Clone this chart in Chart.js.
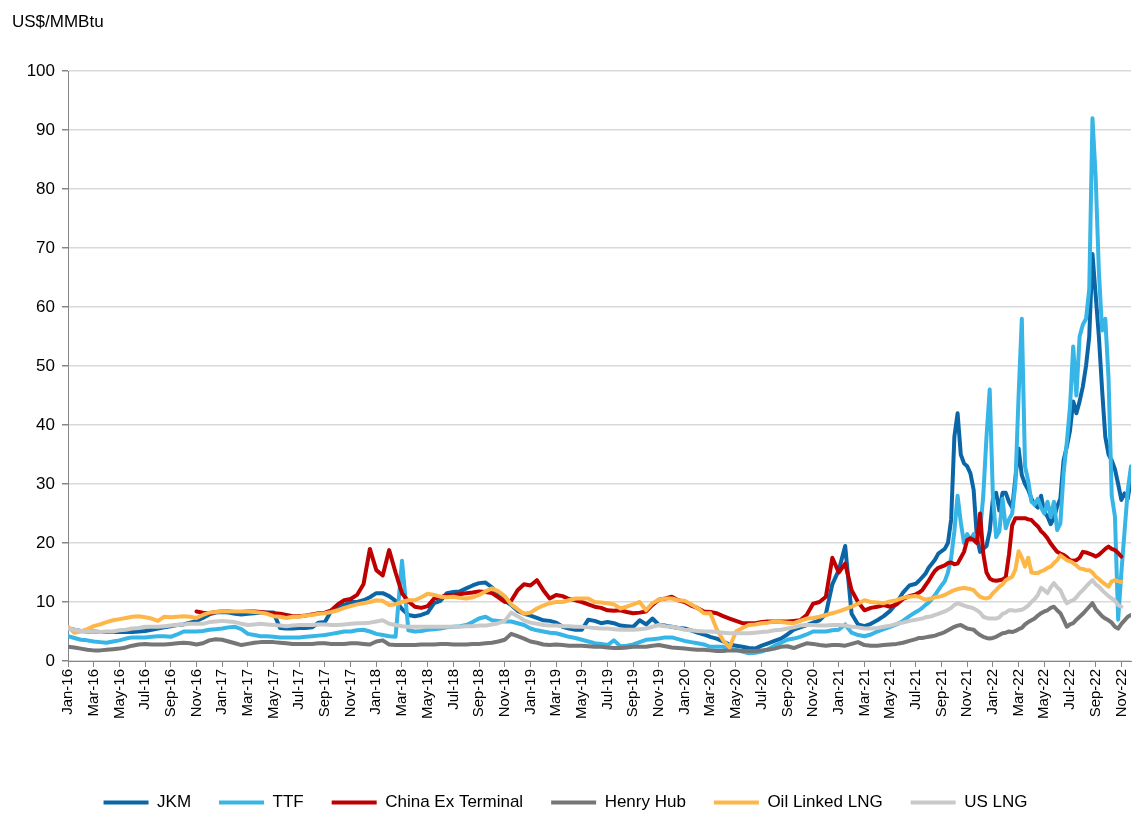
<!DOCTYPE html>
<html>
<head>
<meta charset="utf-8">
<script src="https://cdn.jsdelivr.net/npm/chart.js@4.4.1/dist/chart.umd.min.js"></script>
<style>
  html, body { margin: 0; padding: 0; background: #ffffff; }
  #wrap { width: 1144px; height: 827px; position: relative; }
</style>
</head>
<body>
<div id="wrap"><canvas id="c"></canvas></div>
<script>
// ---- Data (US$/MMBtu). Semi-monthly points Jan-16..Jul-21, weekly points Jul-21..Nov-22 ----
const unitLabel = 'US$/MMBtu';
const seriesNames = ['JKM', 'TTF', 'China Ex Terminal', 'Henry Hub', 'Oil Linked LNG', 'US LNG'];
const tickLabels = [
  'Jan-16','Mar-16','May-16','Jul-16','Sep-16','Nov-16',
  'Jan-17','Mar-17','May-17','Jul-17','Sep-17','Nov-17',
  'Jan-18','Mar-18','May-18','Jul-18','Sep-18','Nov-18',
  'Jan-19','Mar-19','May-19','Jul-19','Sep-19','Nov-19',
  'Jan-20','Mar-20','May-20','Jul-20','Sep-20','Nov-20',
  'Jan-21','Mar-21','May-21','Jul-21','Sep-21','Nov-21',
  'Jan-22','Mar-22','May-22','Jul-22','Sep-22','Nov-22'
];

// time positions in months since Jan-2016
const months = [];
for (let m = 0; m <= 66; m += 0.5) months.push(m);
for (let m = 66.25; m <= 82.75 + 1e-9; m += 0.25) months.push(m);

const jkm = [
  5.5,5.3,5.1,5.0,5.0,4.9,4.9,4.9,4.9,4.9,4.9,5.0,5.1,5.3,5.5,5.7,5.9,6.1,6.2,6.5,6.8,7.3,7.9,8.2,
  8.3,8.2,8.0,7.9,8.0,8.1,8.2,8.2,8.2,5.6,5.5,5.5,5.6,5.6,5.7,6.5,6.6,8.5,9.2,9.5,10.0,10.0,10.3,10.8,
  11.5,11.5,11.0,10.2,8.8,7.8,7.6,7.8,8.2,9.8,10.2,11.5,11.7,11.8,12.3,12.8,13.2,13.3,12.5,11.3,10.2,9.5,8.5,8.0,
  7.7,7.3,6.9,6.8,6.5,5.8,5.5,5.3,5.3,7.0,6.8,6.4,6.6,6.4,6.0,5.9,5.8,6.9,6.2,7.2,6.1,6.0,5.8,5.6,
  5.5,5.2,4.8,4.5,4.1,3.8,3.3,2.8,2.6,2.4,2.2,2.1,2.6,3.0,3.4,3.8,4.5,5.3,5.7,6.1,6.5,6.9,8.0,13.0,
  15.4,19.5,8.0,6.2,5.9,6.3,6.9,7.6,8.5,9.8,11.6,12.8,13.1,
  13.6,14.2,14.8,15.8, 16.5,17.2,18.2,18.6, 19.0,20.0,24.0,38.0, 42.0,35.0,33.5,33.0,
  31.8,29.0,21.0,18.5, 19.0,19.5,22.0,27.5, 28.5,25.5,28.5,28.5, 27.0,26.0,31.0,36.0,
  31.5,30.0,29.0,27.5, 26.5,26.0,28.0,25.2, 24.5,23.2,24.2,26.2, 27.5,34.0,36.3,39.0,
  44.0,42.0,44.0,46.5, 50.0,55.0,69.0,62.0, 55.0,46.0,38.0,35.0, 34.0,32.5,30.0,27.3,
  28.4,27.5,31.0
];
const ttf = [
  4.2,3.9,3.6,3.5,3.3,3.2,3.1,3.3,3.5,3.8,4.0,4.0,4.0,4.1,4.2,4.2,4.1,4.5,5.0,5.0,5.0,5.1,5.3,5.4,
  5.5,5.7,5.8,5.4,4.6,4.4,4.2,4.2,4.1,4.0,4.0,4.0,4.0,4.1,4.2,4.3,4.4,4.6,4.8,5.0,5.0,5.2,5.3,5.0,
  4.6,4.4,4.2,4.1,17.0,5.2,5.0,5.1,5.3,5.4,5.5,5.7,5.8,5.9,6.1,6.6,7.2,7.5,6.9,6.8,6.7,6.7,6.4,6.1,
  5.5,5.2,5.0,4.8,4.7,4.4,4.1,3.9,3.6,3.3,3.0,2.9,2.7,3.5,2.5,2.6,2.8,3.2,3.6,3.7,3.8,4.0,4.0,3.7,
  3.4,3.2,3.0,2.8,2.4,2.4,2.4,2.1,1.9,1.6,1.3,1.4,1.6,2.0,2.6,3.1,3.6,3.8,4.1,4.5,5.0,5.0,5.0,5.2,
  5.3,6.2,4.8,4.4,4.2,4.5,5.0,5.4,5.8,6.2,6.8,7.6,8.3,
  8.6,9.0,9.5,9.9, 10.5,11.2,12.0,12.8, 13.5,15.0,17.5,22.0, 28.0,23.5,20.0,21.5,
  20.5,21.5,20.5,22.0, 28.0,38.0,46.0,28.0, 21.0,22.0,27.5,22.5, 24.0,25.0,30.0,45.0,
  58.0,33.0,30.5,27.0, 26.5,27.5,26.0,25.0, 27.0,24.5,27.0,22.2, 23.3,31.8,37.0,43.0,
  53.3,45.0,55.0,57.0, 58.0,63.0,92.0,82.0, 66.0,56.0,58.0,48.0, 28.0,24.5,7.0,15.0,
  22.0,29.0,33.0
];
const chinaExTerminal = [
  null,null,null,null,null,null,null,null,null,null,null,null,null,null,null,null,null,null,null,null,8.4,8.2,8.1,8.3,
  8.4,8.4,8.3,8.3,8.4,8.4,8.3,8.2,8.1,8.0,7.8,7.6,7.6,7.7,7.9,8.1,8.2,8.6,9.6,10.3,10.5,11.2,13.0,19.0,
  15.4,14.5,18.8,15.0,11.5,10.1,9.2,9.0,9.3,10.6,10.8,11.2,11.2,11.3,11.5,11.6,11.8,11.7,11.5,10.8,10.0,10.2,12.0,13.0,
  12.8,13.7,12.0,10.6,11.2,11.0,10.5,10.3,10.0,9.6,9.2,9.0,8.6,8.5,8.6,8.3,8.1,8.2,8.4,9.5,10.4,10.6,10.9,10.3,
  10.0,9.4,9.0,8.4,8.3,8.1,7.6,7.2,6.8,6.4,6.4,6.4,6.6,6.7,6.7,6.7,6.7,6.8,6.9,7.8,9.7,10.0,10.9,17.5,
  15.0,16.5,12.0,10.0,8.6,9.0,9.2,9.5,9.2,9.6,10.5,11.0,11.3,
  11.6,12.0,12.8,13.6, 14.5,15.3,15.8,16.0, 16.2,16.6,16.7,16.4, 16.5,17.5,18.5,20.5,
  20.8,20.5,20.0,25.0, 18.2,15.0,14.0,13.7, 13.6,13.7,13.8,14.2, 18.0,23.0,24.2,24.2,
  24.2,24.2,24.0,23.9, 23.3,22.8,22.0,21.5, 20.8,19.9,19.2,18.5, 18.2,18.0,17.6,17.1,
  17.0,17.1,17.5,18.5, 18.4,18.2,18.0,17.7, 18.0,18.5,19.0,19.4, 19.0,18.8,18.3,17.7,
  null,null,null
];
const henryHub = [
  2.4,2.3,2.1,1.9,1.8,1.8,1.9,2.0,2.1,2.3,2.6,2.8,2.9,2.8,2.8,2.8,2.9,3.0,3.1,3.0,2.8,3.0,3.5,3.7,
  3.6,3.3,3.0,2.7,2.9,3.1,3.2,3.2,3.2,3.1,3.0,2.9,2.9,2.9,2.9,3.0,3.0,2.9,2.9,2.9,3.0,3.0,2.9,2.8,
  3.3,3.5,2.8,2.7,2.7,2.7,2.7,2.8,2.8,2.8,2.9,2.9,2.8,2.8,2.8,2.9,2.9,3.0,3.1,3.3,3.6,4.6,4.2,3.8,
  3.3,3.1,2.8,2.7,2.8,2.7,2.6,2.6,2.6,2.5,2.4,2.4,2.3,2.2,2.2,2.3,2.4,2.4,2.4,2.6,2.7,2.5,2.3,2.2,
  2.1,2.0,1.9,1.9,1.8,1.7,1.7,1.8,1.8,1.7,1.7,1.7,1.8,1.9,2.1,2.4,2.5,2.2,2.6,3.0,2.9,2.7,2.6,2.7,
  2.7,2.6,2.9,3.2,2.7,2.6,2.6,2.7,2.8,2.9,3.1,3.4,3.7,
  3.9,3.9,4.0,4.1, 4.2,4.3,4.5,4.7, 4.9,5.2,5.5,5.8, 6.0,6.1,5.8,5.5,
  5.4,5.3,4.8,4.4, 4.1,3.9,3.8,3.9, 4.1,4.4,4.7,4.8, 5.0,4.9,5.1,5.4,
  5.6,6.2,6.6,6.9, 7.2,7.7,8.1,8.4, 8.6,9.0,9.2,8.6, 8.1,7.0,5.8,6.2,
  6.4,7.0,7.5,8.0, 8.6,9.2,9.8,8.8, 8.2,7.6,7.2,6.9, 6.5,5.8,5.5,6.3,
  6.9,7.5,7.8
];
const oilLinkedLNG = [
  5.8,4.8,5.0,5.4,5.9,6.2,6.6,6.9,7.1,7.3,7.5,7.6,7.4,7.2,6.8,7.5,7.4,7.5,7.6,7.5,7.3,7.8,8.2,8.3,
  8.4,8.4,8.4,8.4,8.4,8.3,8.2,8.0,7.6,7.5,7.3,7.5,7.5,7.7,7.8,8.0,8.1,8.3,8.6,9.0,9.3,9.6,9.8,10.0,
  10.3,10.2,9.5,9.6,10.0,10.3,10.3,10.8,11.4,11.2,10.9,10.8,10.9,10.7,10.6,10.8,11.2,11.8,12.3,11.8,11.0,9.6,8.8,8.0,
  8.2,8.9,9.4,9.8,10.0,10.0,10.3,10.6,10.6,10.6,10.0,9.9,9.8,9.6,8.9,9.2,9.6,10.0,8.6,9.8,10.4,10.6,10.6,10.3,
  10.2,9.6,9.0,8.1,8.1,5.4,3.5,2.3,5.0,5.6,6.1,6.2,6.4,6.5,6.7,6.6,6.5,6.4,6.8,7.2,7.3,7.5,7.8,8.1,
  8.4,8.8,9.2,9.7,10.3,10.0,9.9,9.8,10.1,10.3,10.7,10.9,11.0,
  10.9,10.6,10.4,10.5, 10.6,10.8,10.9,11.0, 11.2,11.5,11.8,12.0, 12.2,12.3,12.4,12.3,
  12.2,12.0,11.4,10.9, 10.7,10.6,10.8,11.5, 12.0,12.6,13.0,13.7, 14.0,14.3,15.5,18.6,
  17.5,16.0,17.5,15.0, 14.9,14.9,15.2,15.4, 15.8,16.0,16.6,17.1, 17.9,17.5,17.1,16.9,
  16.6,16.2,15.7,15.6, 15.4,15.4,15.0,14.3, 13.9,13.4,13.0,12.6, 13.5,13.7,13.5,13.4,
  null,null,null
];
const usLNG = [
  5.5,5.3,5.1,5.0,5.0,4.9,5.0,5.0,5.2,5.3,5.5,5.6,5.8,5.8,5.8,5.9,6.0,6.1,6.2,6.3,6.3,6.3,6.6,6.7,
  6.8,6.7,6.6,6.3,6.1,6.2,6.3,6.2,6.1,6.0,5.9,6.0,6.1,6.1,6.1,6.2,6.2,6.1,6.1,6.2,6.3,6.4,6.4,6.5,
  6.7,6.9,6.3,6.1,5.9,5.8,5.8,5.8,5.8,5.8,5.8,5.8,5.8,5.8,5.9,5.9,6.0,6.0,6.2,6.4,6.8,8.2,7.6,6.9,
  6.5,6.3,6.1,6.0,6.0,5.9,5.9,5.8,5.8,5.7,5.6,5.5,5.5,5.4,5.3,5.3,5.3,5.4,5.5,5.8,6.1,5.9,5.8,5.6,
  5.3,5.2,5.1,5.0,5.0,4.9,4.8,4.7,4.7,4.7,4.7,4.8,4.9,5.0,5.2,5.3,5.5,5.7,6.0,6.1,6.1,6.0,6.0,6.1,
  6.1,6.0,5.8,5.7,5.5,5.5,5.6,5.8,6.0,6.3,6.5,6.8,7.0,
  7.1,7.2,7.4,7.5, 7.6,7.8,8.0,8.2, 8.4,8.7,9.0,9.5, 9.8,9.6,9.4,9.2,
  9.1,8.9,8.6,8.2, 7.5,7.3,7.2,7.2, 7.2,7.4,8.0,8.2, 8.6,8.6,8.5,8.6,
  8.7,9.0,9.4,10.0, 10.5,11.2,12.4,12.0, 11.5,12.5,13.2,12.5, 12.0,10.8,9.8,10.1,
  10.3,10.8,11.5,12.0, 12.6,13.2,13.7,13.0, 12.6,12.0,11.5,11.0, 10.6,10.2,9.5,9.2,
  null,null,null
];

const seriesValues = [jkm, ttf, chinaExTerminal, henryHub, oilLinkedLNG, usLNG];
const seriesColors = ['#0b66a8', '#36b5e6', '#c00000', '#767676', '#ffb649', '#c9c9c9'];

function toPoints(vals) {
  return vals.map((v, i) => ({ x: months[i], y: v }));
}

Chart.defaults.font.family = "'Liberation Sans', Arial, sans-serif";
Chart.defaults.color = '#000000';

const datasets = seriesNames.map((name, i) => ({
  label: name,
  data: toPoints(seriesValues[i]),
  borderColor: seriesColors[i],
  backgroundColor: seriesColors[i],
  borderWidth: 4,
  pointRadius: 0,
  pointHoverRadius: 0,
  tension: 0,
  spanGaps: false,
  borderJoinStyle: 'round',
  borderCapStyle: 'round',
  order: seriesNames.length - 1 - i
}));

const unitPlugin = {
  id: 'unitLabel',
  afterDraw(chart) {
    const ctx = chart.ctx;
    ctx.save();
    ctx.font = "17px 'Liberation Sans', Arial, sans-serif";
    ctx.fillStyle = '#000000';
    ctx.textAlign = 'left';
    ctx.textBaseline = 'alphabetic';
    ctx.fillText(unitLabel, 12, 27);
    ctx.restore();
  }
};

new Chart(document.getElementById('c'), {
  type: 'line',
  data: { datasets },
  plugins: [unitPlugin],
  options: {
    responsive: true,
    maintainAspectRatio: false,
    animation: false,
    parsing: true,
    layout: { padding: { top: 71, right: 13, bottom: 6, left: 0 } },
    plugins: {
      legend: {
        position: 'bottom',
        labels: {
          boxWidth: 45,
          boxHeight: 4,
          padding: 28,
          font: { size: 17 },
          color: '#000000',
          generateLabels(chart) {
            const items = Chart.defaults.plugins.legend.labels.generateLabels(chart);
            items.forEach(it => { it.lineWidth = 0; it.fillStyle = seriesColors[it.datasetIndex]; });
            items.sort((a, b) => a.datasetIndex - b.datasetIndex);
            return items;
          }
        }
      },
      tooltip: { enabled: false }
    },
    scales: {
      x: {
        type: 'linear',
        min: 0,
        max: 82.75,
        afterFit(scale) { scale.height = 105; },
        afterBuildTicks(scale) {
          scale.ticks = tickLabels.map((_, i) => ({ value: i * 2 }));
        },
        ticks: {
          autoSkip: false,
          minRotation: 90,
          maxRotation: 90,
          padding: 2,
          font: { size: 15 },
          color: '#000000',
          callback: (v) => tickLabels[Math.round(v / 2)]
        },
        grid: {
          display: true,
          drawOnChartArea: false,
          drawTicks: true,
          tickLength: 6,
          color: '#868686',
          tickColor: '#868686'
        },
        border: { display: true, color: '#868686', width: 1 }
      },
      y: {
        min: 0,
        max: 100,
        afterFit(scale) { scale.width = 68; },
        ticks: {
          stepSize: 10,
          padding: 7,
          font: { size: 17 },
          color: '#000000'
        },
        grid: {
          color: '#d9d9d9',
          lineWidth: 1.5,
          tickLength: 6,
          tickColor: '#868686'
        },
        border: { display: true, color: '#868686', width: 1 }
      }
    }
  }
});
</script>
</body>
</html>
